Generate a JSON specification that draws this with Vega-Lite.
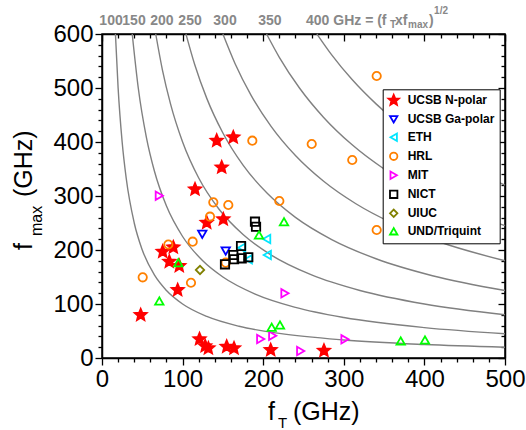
{
  "$schema": "https://vega.github.io/schema/vega-lite/v6.json",
  "width": 403,
  "height": 324,
  "autosize": {"type": "none"},
  "padding": {"left": 102, "top": 34, "right": 21, "bottom": 72},
  "background": "white",
  "config": {
    "font": "Liberation Sans",
    "view": {"stroke": "black", "strokeWidth": 1.5},
    "axis": {"grid": false, "title": null, "tickColor": "black", "tickWidth": 1.3, "domainColor": "black", "domainWidth": 1.5, "labelColor": "black", "labelFontSize": 24, "labelPadding": 2, "labelFlush": false}
  },
  "datasets": {
    "pts": [
      {"group": "UCSB N-polar", "fT": 142.3, "fmax": 402.4},
      {"group": "UCSB N-polar", "fT": 162.9, "fmax": 408.7},
      {"group": "UCSB N-polar", "fT": 148.5, "fmax": 353.1},
      {"group": "UCSB N-polar", "fT": 115.4, "fmax": 312.4},
      {"group": "UCSB N-polar", "fT": 129.9, "fmax": 250.6},
      {"group": "UCSB N-polar", "fT": 150.5, "fmax": 256.9},
      {"group": "UCSB N-polar", "fT": 75.3, "fmax": 196.9},
      {"group": "UCSB N-polar", "fT": 88.5, "fmax": 205},
      {"group": "UCSB N-polar", "fT": 83.5, "fmax": 178.3},
      {"group": "UCSB N-polar", "fT": 95.9, "fmax": 170.4},
      {"group": "UCSB N-polar", "fT": 93.9, "fmax": 125.9},
      {"group": "UCSB N-polar", "fT": 48, "fmax": 79.6},
      {"group": "UCSB N-polar", "fT": 121, "fmax": 35},
      {"group": "UCSB N-polar", "fT": 128, "fmax": 22},
      {"group": "UCSB N-polar", "fT": 132, "fmax": 18},
      {"group": "UCSB N-polar", "fT": 154.7, "fmax": 20.9},
      {"group": "UCSB N-polar", "fT": 163.8, "fmax": 18},
      {"group": "UCSB N-polar", "fT": 209.3, "fmax": 14.8},
      {"group": "UCSB N-polar", "fT": 275.4, "fmax": 13.5},
      {"group": "UCSB Ga-polar", "fT": 124.4, "fmax": 229},
      {"group": "UCSB Ga-polar", "fT": 153.5, "fmax": 198},
      {"group": "ETH", "fT": 173.3, "fmax": 204.3},
      {"group": "ETH", "fT": 181.5, "fmax": 182.8},
      {"group": "ETH", "fT": 204.3, "fmax": 220.4},
      {"group": "ETH", "fT": 205.1, "fmax": 190.7},
      {"group": "HRL", "fT": 50.5, "fmax": 149.4},
      {"group": "HRL", "fT": 82.3, "fmax": 210.2},
      {"group": "HRL", "fT": 112.5, "fmax": 215.4},
      {"group": "HRL", "fT": 110.4, "fmax": 139.4},
      {"group": "HRL", "fT": 134, "fmax": 261.7},
      {"group": "HRL", "fT": 138.1, "fmax": 288.3},
      {"group": "HRL", "fT": 156.7, "fmax": 283.3},
      {"group": "HRL", "fT": 153.5, "fmax": 176.5},
      {"group": "HRL", "fT": 186.5, "fmax": 402.4},
      {"group": "HRL", "fT": 260.2, "fmax": 396.3},
      {"group": "HRL", "fT": 310.5, "fmax": 366.7},
      {"group": "HRL", "fT": 340.8, "fmax": 522.2},
      {"group": "HRL", "fT": 340.8, "fmax": 237},
      {"group": "HRL", "fT": 220, "fmax": 290.7},
      {"group": "MIT", "fT": 71.1, "fmax": 300.6},
      {"group": "MIT", "fT": 227, "fmax": 119.8},
      {"group": "MIT", "fT": 196.9, "fmax": 35.2},
      {"group": "MIT", "fT": 211.8, "fmax": 41.3},
      {"group": "MIT", "fT": 246.5, "fmax": 13},
      {"group": "MIT", "fT": 301.5, "fmax": 34.6},
      {"group": "NICT", "fT": 189.8, "fmax": 252.4},
      {"group": "NICT", "fT": 191.1, "fmax": 243.1},
      {"group": "NICT", "fT": 172.5, "fmax": 207.4},
      {"group": "NICT", "fT": 162.9, "fmax": 190.7},
      {"group": "NICT", "fT": 173.3, "fmax": 184.6},
      {"group": "NICT", "fT": 181.5, "fmax": 186.5},
      {"group": "NICT", "fT": 152.6, "fmax": 173.5},
      {"group": "NICT", "fT": 163.8, "fmax": 182.8},
      {"group": "UIUC", "fT": 121.6, "fmax": 163},
      {"group": "UND/Triquint", "fT": 71.1, "fmax": 105.6},
      {"group": "UND/Triquint", "fT": 94.7, "fmax": 176.5},
      {"group": "UND/Triquint", "fT": 194.8, "fmax": 227.8},
      {"group": "UND/Triquint", "fT": 225.8, "fmax": 252.4},
      {"group": "UND/Triquint", "fT": 210.5, "fmax": 56.9},
      {"group": "UND/Triquint", "fT": 220.8, "fmax": 61.1},
      {"group": "UND/Triquint", "fT": 370.6, "fmax": 31.5},
      {"group": "UND/Triquint", "fT": 400.7, "fmax": 33.3}
    ],
    "curves": [
      {"c": 100, "fT": 16.67, "fmax": 600}, {"c": 100, "fT": 20, "fmax": 500}, {"c": 100, "fT": 25, "fmax": 400}, {"c": 100, "fT": 30, "fmax": 333.3}, {"c": 100, "fT": 40, "fmax": 250}, {"c": 100, "fT": 50, "fmax": 200}, {"c": 100, "fT": 65, "fmax": 153.8}, {"c": 100, "fT": 80, "fmax": 125}, {"c": 100, "fT": 100, "fmax": 100}, {"c": 100, "fT": 130, "fmax": 76.9}, {"c": 100, "fT": 170, "fmax": 58.8}, {"c": 100, "fT": 220, "fmax": 45.5}, {"c": 100, "fT": 300, "fmax": 33.3}, {"c": 100, "fT": 400, "fmax": 25}, {"c": 100, "fT": 500, "fmax": 20},
      {"c": 150, "fT": 37.5, "fmax": 600}, {"c": 150, "fT": 45, "fmax": 500}, {"c": 150, "fT": 55, "fmax": 409.1}, {"c": 150, "fT": 65, "fmax": 346.2}, {"c": 150, "fT": 80, "fmax": 281.3}, {"c": 150, "fT": 100, "fmax": 225}, {"c": 150, "fT": 125, "fmax": 180}, {"c": 150, "fT": 150, "fmax": 150}, {"c": 150, "fT": 190, "fmax": 118.4}, {"c": 150, "fT": 240, "fmax": 93.75}, {"c": 150, "fT": 300, "fmax": 75}, {"c": 150, "fT": 400, "fmax": 56.25}, {"c": 150, "fT": 500, "fmax": 45},
      {"c": 200, "fT": 66.67, "fmax": 600}, {"c": 200, "fT": 75, "fmax": 533.3}, {"c": 200, "fT": 85, "fmax": 470.6}, {"c": 200, "fT": 100, "fmax": 400}, {"c": 200, "fT": 120, "fmax": 333.3}, {"c": 200, "fT": 145, "fmax": 275.9}, {"c": 200, "fT": 175, "fmax": 228.6}, {"c": 200, "fT": 210, "fmax": 190.5}, {"c": 200, "fT": 260, "fmax": 153.8}, {"c": 200, "fT": 320, "fmax": 125}, {"c": 200, "fT": 400, "fmax": 100}, {"c": 200, "fT": 500, "fmax": 80},
      {"c": 250, "fT": 104.17, "fmax": 600}, {"c": 250, "fT": 115, "fmax": 543.5}, {"c": 250, "fT": 130, "fmax": 480.8}, {"c": 250, "fT": 150, "fmax": 416.7}, {"c": 250, "fT": 175, "fmax": 357.1}, {"c": 250, "fT": 205, "fmax": 304.9}, {"c": 250, "fT": 240, "fmax": 260.4}, {"c": 250, "fT": 285, "fmax": 219.3}, {"c": 250, "fT": 340, "fmax": 183.8}, {"c": 250, "fT": 410, "fmax": 152.4}, {"c": 250, "fT": 500, "fmax": 125},
      {"c": 300, "fT": 150, "fmax": 600}, {"c": 300, "fT": 165, "fmax": 545.5}, {"c": 300, "fT": 185, "fmax": 486.5}, {"c": 300, "fT": 210, "fmax": 428.6}, {"c": 300, "fT": 240, "fmax": 375}, {"c": 300, "fT": 275, "fmax": 327.3}, {"c": 300, "fT": 315, "fmax": 285.7}, {"c": 300, "fT": 360, "fmax": 250}, {"c": 300, "fT": 420, "fmax": 214.3}, {"c": 300, "fT": 500, "fmax": 180},
      {"c": 350, "fT": 204.17, "fmax": 600}, {"c": 350, "fT": 220, "fmax": 556.8}, {"c": 350, "fT": 245, "fmax": 500}, {"c": 350, "fT": 275, "fmax": 445.5}, {"c": 350, "fT": 310, "fmax": 395.2}, {"c": 350, "fT": 350, "fmax": 350}, {"c": 350, "fT": 395, "fmax": 310.1}, {"c": 350, "fT": 445, "fmax": 275.3}, {"c": 350, "fT": 500, "fmax": 245},
      {"c": 400, "fT": 266.67, "fmax": 600}, {"c": 400, "fT": 285, "fmax": 561.4}, {"c": 400, "fT": 310, "fmax": 516.1}, {"c": 400, "fT": 340, "fmax": 470.6}, {"c": 400, "fT": 375, "fmax": 426.7}, {"c": 400, "fT": 415, "fmax": 385.5}, {"c": 400, "fT": 455, "fmax": 351.6}, {"c": 400, "fT": 500, "fmax": 320}
    ],
    "topNums": [
      {"t": "100", "fT": 11.2, "fmax": 616.7},
      {"t": "150", "fT": 39.7, "fmax": 616.7},
      {"t": "200", "fT": 74.4, "fmax": 616.7},
      {"t": "250", "fT": 109.2, "fmax": 616.7},
      {"t": "300", "fT": 152.6, "fmax": 616.7},
      {"t": "350", "fT": 208.4, "fmax": 616.7}
    ],
    "topMain": [
      {"t": "400 GHz = (f", "fT": 253.1, "fmax": 616.7},
      {"t": "xf", "fT": 363.5, "fmax": 616.7},
      {"t": ")", "fT": 405.7, "fmax": 616.7}
    ],
    "topSub": [
      {"t": "T", "fT": 357.3, "fmax": 612},
      {"t": "max", "fT": 379.7, "fmax": 612}
    ],
    "topSup": [
      {"t": "1/2", "fT": 412, "fmax": 637}
    ],
    "xTitle": [
      {"t": "f", "fT": 206, "fmax": -114.8},
      {"t": "(GHz)", "fT": 237, "fmax": -114.8}
    ],
    "xTitleSub": [
      {"t": "T", "fT": 218.4, "fmax": -129.6}
    ],
    "yTitle": [
      {"t": "f", "fT": -86.8, "fmax": 200},
      {"t": "(GHz)", "fT": -86.8, "fmax": 298}
    ],
    "yTitleSub": [
      {"t": "max", "fT": -74.4, "fmax": 226}
    ]
  },
  "layer": [
    {
      "data": {"name": "curves"},
      "mark": {"type": "line", "interpolate": "monotone", "color": "#808080", "strokeWidth": 1.4},
      "encoding": {
        "x": {
          "field": "fT", "type": "quantitative",
          "scale": {"domain": [0, 500], "nice": false, "zero": false},
          "axis": {"orient": "bottom", "values": [0, 100, 200, 300, 400, 500], "tickSize": 7}
        },
        "y": {
          "field": "fmax", "type": "quantitative",
          "scale": {"domain": [0, 600], "nice": false, "zero": false},
          "axis": {"orient": "left", "values": [0, 100, 200, 300, 400, 500, 600], "tickSize": 7}
        },
        "detail": {"field": "c", "type": "nominal"}
      }
    },
    {
      "data": {"name": "pts"},
      "mark": {"type": "point", "strokeWidth": 1.8, "opacity": 1, "size": 70},
      "encoding": {
        "x": {
          "field": "fT", "type": "quantitative",
          "axis": {"orient": "bottom", "offset": -324, "labels": false, "values": [0, 100, 200, 300, 400, 500], "tickSize": 7}
        },
        "y": {
          "field": "fmax", "type": "quantitative",
          "axis": {"orient": "left", "offset": -403, "labels": false, "values": [0, 100, 200, 300, 400, 500, 600], "tickSize": 7}
        },
        "shape": {
          "field": "group", "type": "nominal",
          "scale": {
            "domain": ["UCSB N-polar", "UCSB Ga-polar", "ETH", "HRL", "MIT", "NICT", "UIUC", "UND/Triquint"],
            "range": ["M0,-1.5L0.397,-0.546L1.427,-0.464L0.642,0.209L0.882,1.214L0,0.675L-0.882,1.214L-0.642,0.209L-1.427,-0.464L-0.397,-0.546Z", "triangle-down", "triangle-left", "circle", "triangle-right", "square", "diamond", "triangle-up"]
          },
          "legend": {
            "title": null, "orient": "none", "legendX": 280.7, "legendY": 55.3,
            "fillColor": "white", "strokeColor": "black", "padding": 5,
            "labelFontSize": 12, "labelFontWeight": "bold", "labelColor": "black",
            "symbolStrokeWidth": 1.8, "symbolSize": 55, "rowPadding": 3, "labelOffset": 8
          }
        },
        "stroke": {
          "field": "group", "type": "nominal",
          "scale": {
            "domain": ["UCSB N-polar", "UCSB Ga-polar", "ETH", "HRL", "MIT", "NICT", "UIUC", "UND/Triquint"],
            "range": ["#ff0000", "#0000ff", "#00e5ff", "#ff8000", "#ff00ff", "#000000", "#808000", "#00ff00"]
          },
          "legend": {
            "title": null, "orient": "none", "legendX": 280.7, "legendY": 55.3,
            "fillColor": "white", "strokeColor": "black", "padding": 5,
            "labelFontSize": 12, "labelFontWeight": "bold", "labelColor": "black",
            "symbolStrokeWidth": 1.8, "symbolSize": 55, "rowPadding": 3, "labelOffset": 8
          }
        },
        "fill": {
          "field": "group", "type": "nominal",
          "scale": {
            "domain": ["UCSB N-polar", "UCSB Ga-polar", "ETH", "HRL", "MIT", "NICT", "UIUC", "UND/Triquint"],
            "range": ["#ff0000", "transparent", "transparent", "transparent", "transparent", "transparent", "transparent", "transparent"]
          },
          "legend": {
            "title": null, "orient": "none", "legendX": 280.7, "legendY": 55.3,
            "fillColor": "white", "strokeColor": "black", "padding": 5,
            "labelFontSize": 12, "labelFontWeight": "bold", "labelColor": "black",
            "symbolStrokeWidth": 1.8, "symbolSize": 55, "rowPadding": 3, "labelOffset": 8
          }
        }
      }
    },
    {
      "data": {"name": "topNums"},
      "mark": {"type": "text", "align": "center", "baseline": "alphabetic", "fontSize": 14, "fontWeight": "bold", "color": "#888888"},
      "encoding": {
        "x": {"field": "fT", "type": "quantitative",
          "axis": {"orient": "bottom", "labels": false, "domain": false, "values": [20,40,60,80,120,140,160,180,220,240,260,280,320,340,360,380,420,440,460,480], "tickSize": 4}},
        "y": {"field": "fmax", "type": "quantitative",
          "axis": {"orient": "left", "labels": false, "domain": false, "values": [20,40,60,80,120,140,160,180,220,240,260,280,320,340,360,380,420,440,460,480,520,540,560,580], "tickSize": 4}},
        "text": {"field": "t"}
      }
    },
    {
      "data": {"name": "topMain"},
      "mark": {"type": "text", "align": "left", "baseline": "alphabetic", "fontSize": 14, "fontWeight": "bold", "color": "#888888"},
      "encoding": {
        "x": {"field": "fT", "type": "quantitative",
          "axis": {"orient": "bottom", "offset": -324, "labels": false, "domain": false, "values": [20,40,60,80,120,140,160,180,220,240,260,280,320,340,360,380,420,440,460,480], "tickSize": 4}},
        "y": {"field": "fmax", "type": "quantitative",
          "axis": {"orient": "left", "offset": -403, "labels": false, "domain": false, "values": [20,40,60,80,120,140,160,180,220,240,260,280,320,340,360,380,420,440,460,480,520,540,560,580], "tickSize": 4}},
        "text": {"field": "t"}
      }
    },
    {
      "data": {"name": "topSub"},
      "mark": {"type": "text", "align": "left", "baseline": "alphabetic", "fontSize": 10, "fontWeight": "bold", "color": "#888888"},
      "encoding": {
        "x": {"field": "fT", "type": "quantitative", "axis": null},
        "y": {"field": "fmax", "type": "quantitative", "axis": null},
        "text": {"field": "t"}
      }
    },
    {
      "data": {"name": "topSup"},
      "mark": {"type": "text", "align": "left", "baseline": "alphabetic", "fontSize": 10, "fontWeight": "bold", "color": "#888888"},
      "encoding": {
        "x": {"field": "fT", "type": "quantitative", "axis": null},
        "y": {"field": "fmax", "type": "quantitative", "axis": null},
        "text": {"field": "t"}
      }
    },
    {
      "data": {"name": "xTitle"},
      "mark": {"type": "text", "align": "left", "baseline": "alphabetic", "fontSize": 25, "color": "black"},
      "encoding": {
        "x": {"field": "fT", "type": "quantitative", "axis": null},
        "y": {"field": "fmax", "type": "quantitative", "axis": null},
        "text": {"field": "t"}
      }
    },
    {
      "data": {"name": "xTitleSub"},
      "mark": {"type": "text", "align": "left", "baseline": "alphabetic", "fontSize": 15, "color": "black"},
      "encoding": {
        "x": {"field": "fT", "type": "quantitative", "axis": null},
        "y": {"field": "fmax", "type": "quantitative", "axis": null},
        "text": {"field": "t"}
      }
    },
    {
      "data": {"name": "yTitle"},
      "mark": {"type": "text", "align": "left", "baseline": "alphabetic", "fontSize": 25, "angle": 270, "color": "black"},
      "encoding": {
        "x": {"field": "fT", "type": "quantitative", "axis": null},
        "y": {"field": "fmax", "type": "quantitative", "axis": null},
        "text": {"field": "t"}
      }
    },
    {
      "data": {"name": "yTitleSub"},
      "mark": {"type": "text", "align": "left", "baseline": "alphabetic", "fontSize": 16, "angle": 270, "color": "black"},
      "encoding": {
        "x": {"field": "fT", "type": "quantitative", "axis": null},
        "y": {"field": "fmax", "type": "quantitative", "axis": null},
        "text": {"field": "t"}
      }
    }
  ],
  "resolve": {"axis": {"x": "independent", "y": "independent"}}
}
